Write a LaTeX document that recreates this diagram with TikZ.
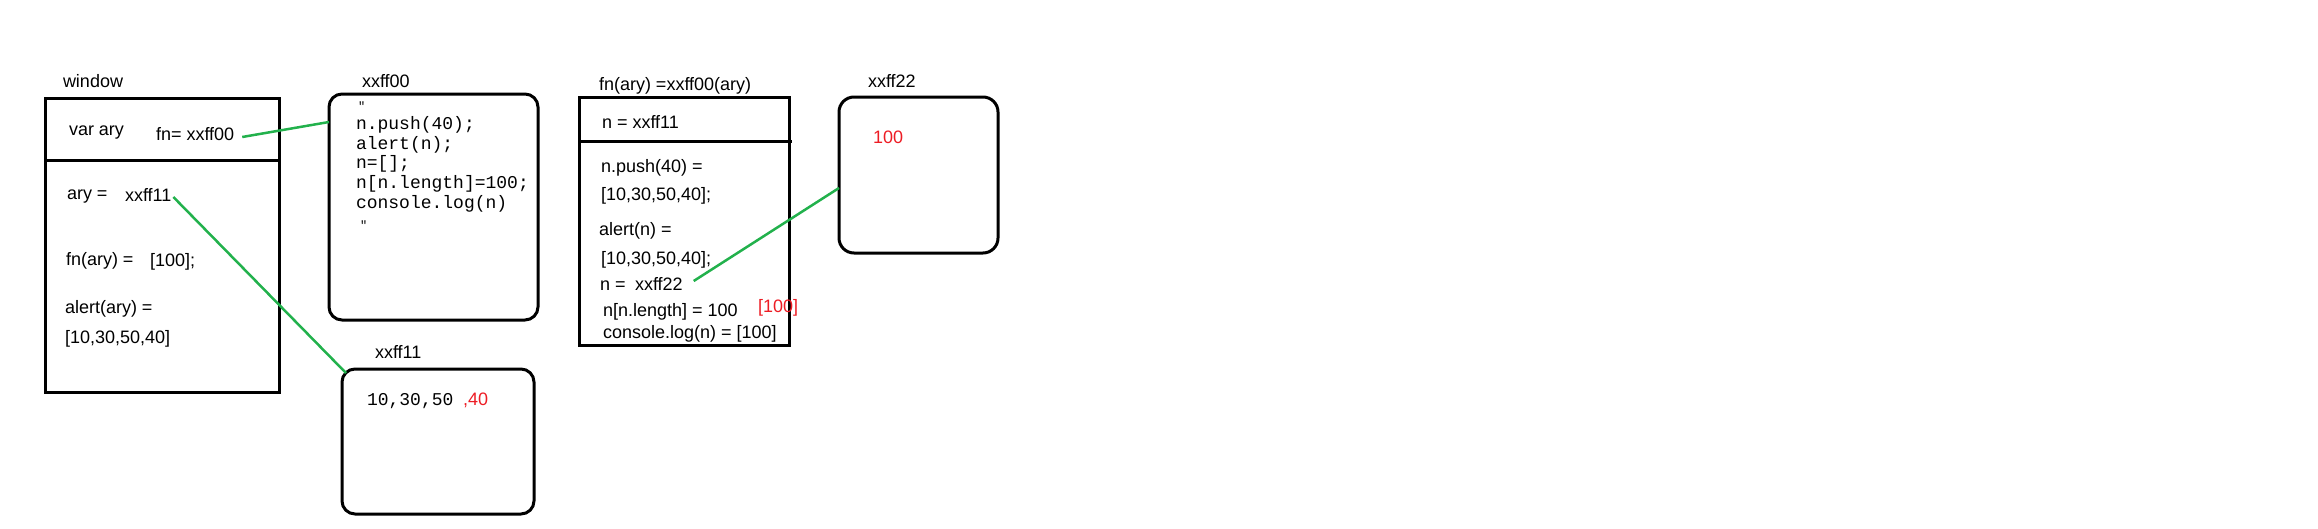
\documentclass[tikz,border=0pt]{standalone}
\usepackage{fontspec}
\setmainfont{Liberation Sans}
\setmonofont{Liberation Mono}
\definecolor{pgreen}{RGB}{34,177,76}
\definecolor{pred}{RGB}{237,28,36}
\begin{document}
\begin{tikzpicture}[x=1pt,y=-1pt,
  lbl/.style={anchor=base west, inner sep=0, outer sep=0, font=\fontsize{18}{20}\selectfont},
  redlbl/.style={lbl, text=pred},
  code/.style={anchor=base west, inner sep=0, outer sep=0, font=\fontsize{18}{20}\ttfamily},
  quotemark/.style={anchor=base west, inner sep=0, outer sep=0, font=\fontsize{12}{14}\ttfamily},
  frame/.style={draw, line width=3pt, inner sep=0, outer sep=0, anchor=north west},
  mem/.style={frame, rounded corners=13pt},
  link/.style={draw=pgreen, line width=2.5pt}]
\useasboundingbox (0,0) rectangle (2318,528);

% frames
\node[frame, minimum width=234pt, minimum height=294pt] (win) at (45,98) {};
\draw[line width=3pt] ([yshift=-62pt]win.north west) -- ([yshift=-62pt]win.north east);
\node[mem, minimum width=209pt, minimum height=226pt] (b00) at (329,94) {};
\node[mem, minimum width=192pt, minimum height=145pt] (b11) at (342,369) {};
\node[frame, minimum width=210pt, minimum height=248pt] (fnb) at (579,97) {};
\draw[line width=3pt] ([yshift=-44pt]fnb.north west) -- ([xshift=3pt,yshift=-44pt]fnb.north east);
\node[mem, rounded corners=15pt, minimum width=159pt, minimum height=156pt] (b22) at (839,97) {};

% window
\node[lbl] (twin) at (63,87) {window};
\node[lbl] (tvar) at (69,135) {var ary};
\node[lbl] (tfn) at (156,140) {fn= xxff00};
\node[lbl] (tary) at (67,199) {ary =};
\node[lbl] (tary11) at (125,201) {xxff11};
\node[lbl] (tfnary) at (66,265) {fn(ary) =};
\node[lbl] (tfnres) at (150,266) {[100];};
\node[lbl] (talert) at (65,313) {alert(ary) =};
\node[lbl] (talres) at (65,343) {[10,30,50,40]};

% xxff00
\node[lbl] (t00) at (362,87) {xxff00};
\node[quotemark] (c0) at (358,110) {"};
\node[code] (c1) at (356,129) {n.push(40);};
\node[code] (c2) at (356,149) {alert(n);};
\node[code] (c3) at (356,168) {n=[];};
\node[code] (c4) at (356,188) {n[n.length]=100;};
\node[code] (c5) at (356,208) {console.log(n)};
\node[quotemark] (c6) at (360,229) {"};

% xxff11
\node[lbl] (t11) at (375,358) {xxff11};
\node[code] (v11) at (367,405) {10,30,50};
\node[redlbl] (v40) at (463,405) {,40};

% fn(ary)
\node[lbl] (tfnhead) at (599,90) {fn(ary) =xxff00(ary)};
\node[lbl] (f1) at (602,128) {n = xxff11};
\node[lbl] (f2) at (601,172) {n.push(40) =};
\node[lbl] (f3) at (601,200) {[10,30,50,40];};
\node[lbl] (f4) at (599,235) {alert(n) =};
\node[lbl] (f5) at (601,264) {[10,30,50,40];};
\node[lbl] (f6) at (600,290) {n =};
\node[lbl] (f6b) at (635,290) {xxff22};
\node[lbl] (f7) at (603,316) {n[n.length] = 100};
\node[redlbl] (f7r) at (758,312) {[100]};
\node[lbl] (f8) at (603,338) {console.log(n) = [100]};

% xxff22
\node[lbl] (t22) at (868,87) {xxff22};
\node[redlbl] (v22) at (873,143) {100};

% connector ends
\coordinate (e00) at ([yshift=-28pt]b00.north west);
\coordinate (e11) at (346,373);
\coordinate (e22) at ([yshift=-91pt]b22.north west);

\draw[link] ([xshift=8pt,yshift=3pt]tfn.base east) -- (e00);
\draw[link] ([xshift=2pt,yshift=4pt]tary11.base east) -- (e11);
\draw[link] ([xshift=11pt,yshift=9pt]f6b.base east) -- (e22);
\end{tikzpicture}
\end{document}
